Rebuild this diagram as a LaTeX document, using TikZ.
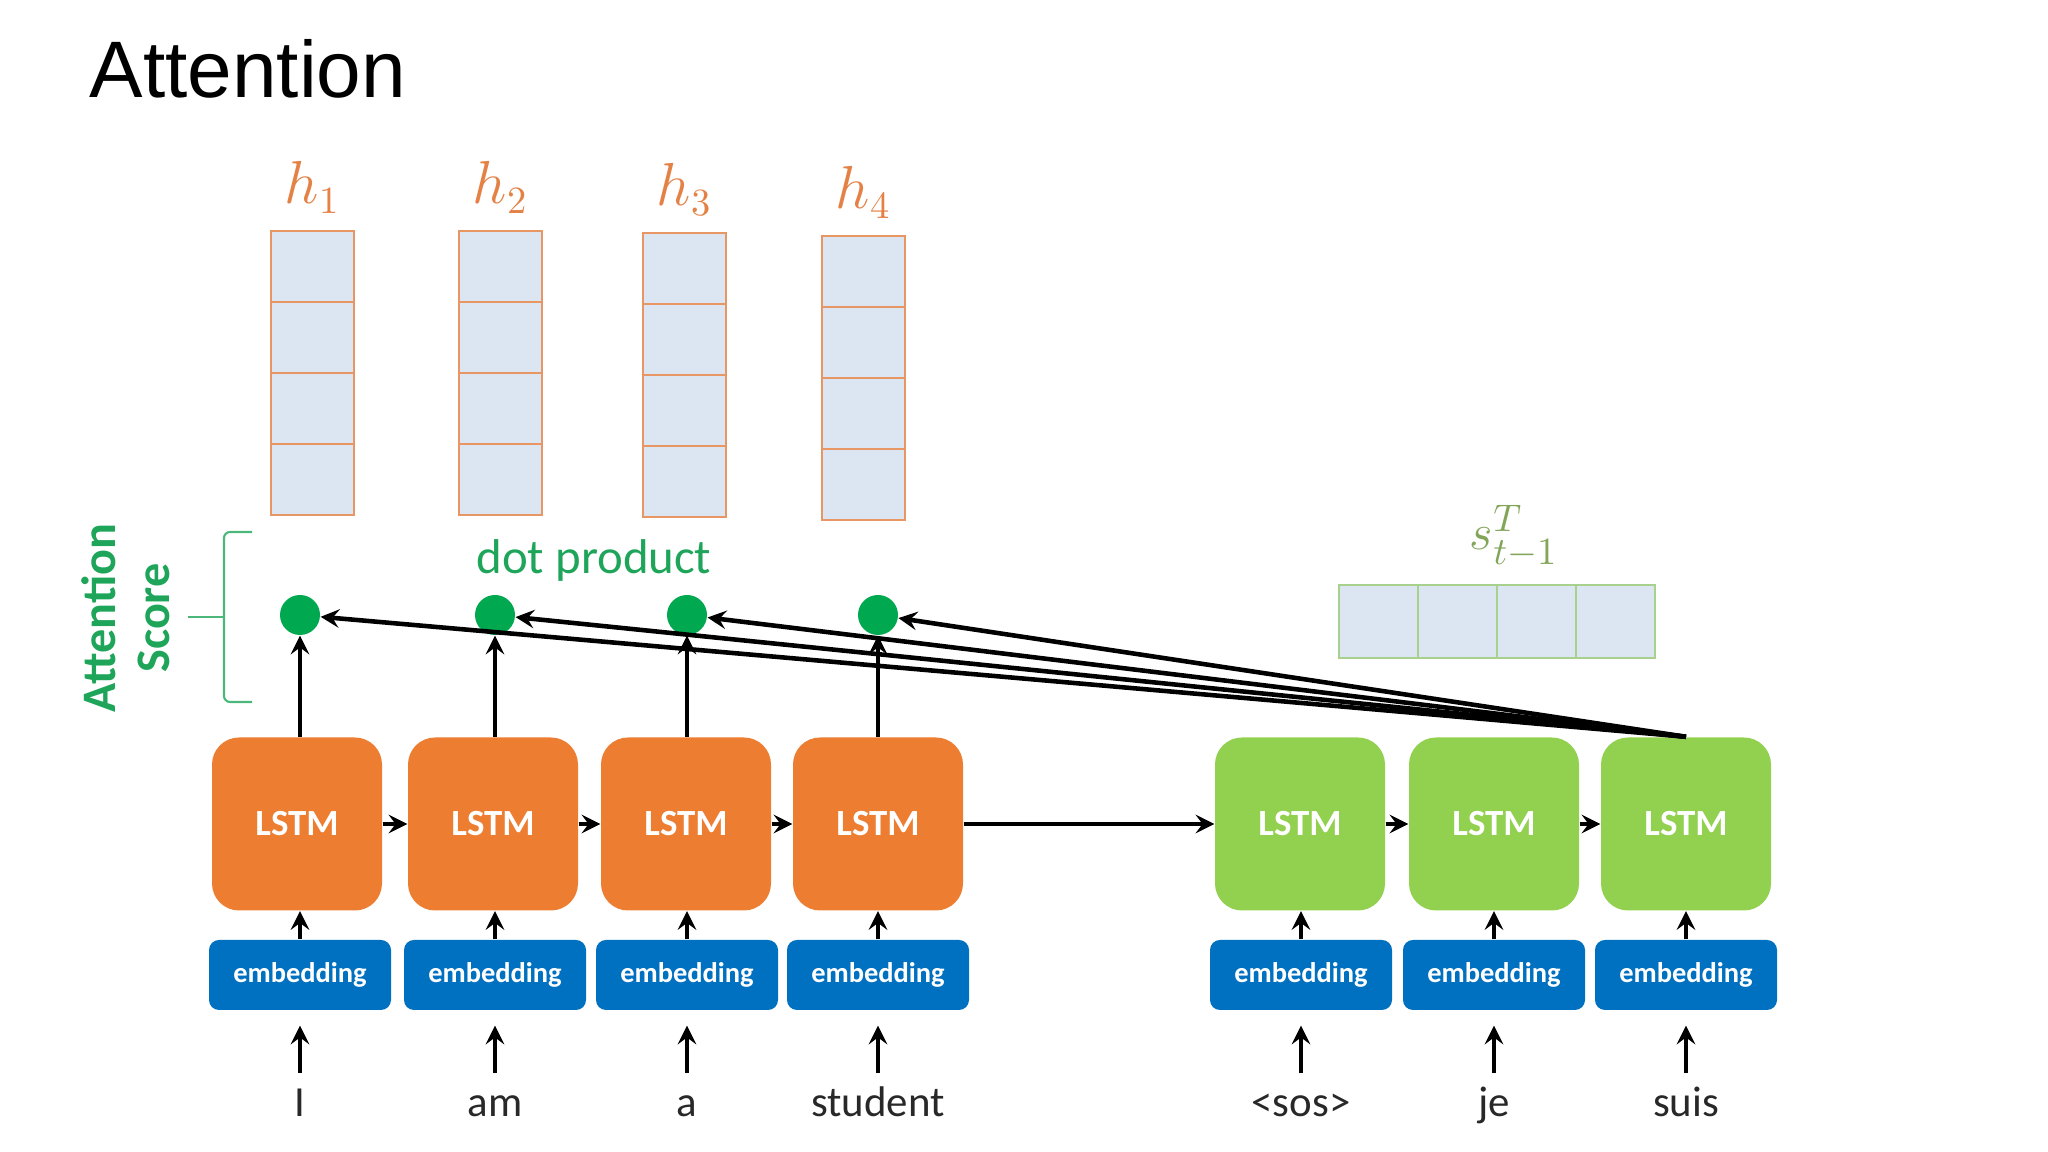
\documentclass[tikz,border=0pt]{standalone}
\usepackage{amsmath}
\usepackage{fontspec}
\setmainfont{Carlito}
\newfontfamily\titlefont{Liberation Sans}
\usepackage{tikz}

\definecolor{lstmorange}{RGB}{237,125,49}
\definecolor{lstmgreen}{RGB}{146,208,80}
\definecolor{embblue}{RGB}{0,112,192}
\definecolor{cellblue}{RGB}{220,230,242}
\definecolor{hborder}{RGB}{232,150,100}
\definecolor{sborder}{RGB}{169,209,142}
\definecolor{hlabel}{RGB}{228,130,70}
\definecolor{slabel}{RGB}{130,165,90}
\definecolor{scoregreen}{RGB}{0,168,80}
\definecolor{textgreen}{RGB}{30,165,90}
\definecolor{wordgray}{RGB}{40,40,40}

\tikzset{
	encbox/.style={rectangle, rounded corners=0.27cm, fill=lstmorange, minimum width=1.70cm, minimum height=1.73cm, text=white, font=\fontsize{10.5}{12}\selectfont\bfseries},
	decbox/.style={encbox, fill=lstmgreen},
	embbox/.style={rectangle, rounded corners=0.1cm, fill=embblue, minimum width=1.82cm, minimum height=0.70cm, text=white, font=\fontsize{8.1}{9}\selectfont\bfseries},
	word/.style={inner sep=0pt, anchor=base, text height=0.32cm, text depth=0.1cm, text=wordgray, font=\fontsize{12.2}{14}\selectfont},
	scoredot/.style={circle, fill=scoregreen, minimum size=0.40cm, inner sep=0pt},
	conn/.style={-stealth, line width=1.3pt},
	inarrow/.style={conn, shorten <=0.11cm, shorten >=0.15cm},
	hcell/.style={draw=hborder, fill=cellblue, line width=0.7pt},
	scell/.style={draw=sborder, fill=cellblue, line width=0.7pt},
	hlab/.style={anchor=base, inner sep=0pt, text=hlabel, font=\fontsize{16}{18}\selectfont},
	bracket/.style={draw=textgreen!80, line width=0.6pt},
}

\begin{document}
\begin{tikzpicture}
				\centering
				\useasboundingbox (0, 0) rectangle (20.48, 11.52);
				\node[anchor=base west, inner sep=0pt, font=\titlefont\fontsize{22.8}{26}\selectfont] (title) at (0.89, 10.54) {Attention};
				\draw[hcell] (2.71, 6.37) rectangle ++(0.83, 0.71);
				\draw[hcell] (2.71, 7.08) rectangle ++(0.83, 0.71);
				\draw[hcell] (2.71, 7.79) rectangle ++(0.83, 0.71);
				\draw[hcell] (2.71, 8.50) rectangle ++(0.83, 0.71);
				\draw[hcell] (4.59, 6.37) rectangle ++(0.83, 0.71);
				\draw[hcell] (4.59, 7.08) rectangle ++(0.83, 0.71);
				\draw[hcell] (4.59, 7.79) rectangle ++(0.83, 0.71);
				\draw[hcell] (4.59, 8.50) rectangle ++(0.83, 0.71);
				\draw[hcell] (6.43, 6.35) rectangle ++(0.83, 0.71);
				\draw[hcell] (6.43, 7.06) rectangle ++(0.83, 0.71);
				\draw[hcell] (6.43, 7.77) rectangle ++(0.83, 0.71);
				\draw[hcell] (6.43, 8.48) rectangle ++(0.83, 0.71);
				\draw[hcell] (8.22, 6.32) rectangle ++(0.83, 0.71);
				\draw[hcell] (8.22, 7.03) rectangle ++(0.83, 0.71);
				\draw[hcell] (8.22, 7.74) rectangle ++(0.83, 0.71);
				\draw[hcell] (8.22, 8.45) rectangle ++(0.83, 0.71);
				\node[hlab] (h1) at (3.125, 9.48) {$h_1$};
				\node[hlab] (h2) at (5.005, 9.48) {$h_2$};
				\node[hlab] (h3) at (6.845, 9.46) {$h_3$};
				\node[hlab] (h4) at (8.635, 9.43) {$h_4$};
				\draw[scell] (13.39, 4.94) rectangle ++(0.79, 0.73);
				\draw[scell] (14.18, 4.94) rectangle ++(0.79, 0.73);
				\draw[scell] (14.97, 4.94) rectangle ++(0.79, 0.73);
				\draw[scell] (15.76, 4.94) rectangle ++(0.79, 0.73);
				\node[anchor=base, inner sep=0pt, text=slabel, font=\fontsize{15.5}{17}\selectfont] (slab) at (15.14, 6.02) {$s_{t-1}^{T}$};
				\node[anchor=base, inner sep=0pt, text=textgreen, font=\fontsize{13.9}{16}\selectfont] (dotlab) at (5.94, 5.78) {dot product};
				\node[rotate=90, align=center, text=textgreen, font=\fontsize{13.7}{15.4}\selectfont\bfseries] (scorelab) at (1.26, 5.34) {Attention\\Score};
				\draw[bracket, rounded corners=0.06cm] (2.52, 6.20) -| (2.24, 4.50) -- (2.52, 4.50);
				\draw[bracket] (1.88, 5.35) -- (2.24, 5.35);
				\node[scoredot] (d1) at (3.00, 5.37) {};
				\node[scoredot] (d2) at (4.95, 5.37) {};
				\node[scoredot] (d3) at (6.87, 5.37) {};
				\node[scoredot] (d4) at (8.78, 5.37) {};
				\node[encbox] (enc1) at (2.97, 3.28) {LSTM};
				\node[encbox] (enc2) at (4.93, 3.28) {LSTM};
				\node[encbox] (enc3) at (6.86, 3.28) {LSTM};
				\node[encbox] (enc4) at (8.78, 3.28) {LSTM};
				\node[decbox] (dec1) at (13.00, 3.28) {LSTM};
				\node[decbox] (dec2) at (14.94, 3.28) {LSTM};
				\node[decbox] (dec3) at (16.86, 3.28) {LSTM};
				\node[embbox] (e1) at (3.00, 1.77) {embedding};
				\node[embbox] (e2) at (4.95, 1.77) {embedding};
				\node[embbox] (e3) at (6.87, 1.77) {embedding};
				\node[embbox] (e4) at (8.78, 1.77) {embedding};
				\node[embbox] (e5) at (13.01, 1.77) {embedding};
				\node[embbox] (e6) at (14.94, 1.77) {embedding};
				\node[embbox] (e7) at (16.86, 1.77) {embedding};
				\node[word] (w1) at (3.00, 0.35) {I};
				\node[word] (w2) at (4.95, 0.35) {am};
				\node[word] (w3) at (6.87, 0.35) {a};
				\node[word] (w4) at (8.78, 0.35) {student};
				\node[word] (w5) at (13.01, 0.35) {<sos>};
				\node[word] (w6) at (14.94, 0.35) {je};
				\node[word] (w7) at (16.86, 0.35) {suis};
				\draw[inarrow] (w1) -- (e1);
				\draw[inarrow] (w2) -- (e2);
				\draw[inarrow] (w3) -- (e3);
				\draw[inarrow] (w4) -- (e4);
				\draw[inarrow] (w5) -- (e5);
				\draw[inarrow] (w6) -- (e6);
				\draw[inarrow] (w7) -- (e7);
				\draw[conn] (e1) -- (e1 |- enc1.south);
				\draw[conn] (e2) -- (e2 |- enc2.south);
				\draw[conn] (e3) -- (e3 |- enc3.south);
				\draw[conn] (e4) -- (enc4);
				\draw[conn] (e5) -- (e5 |- dec1.south);
				\draw[conn] (e6) -- (dec2);
				\draw[conn] (e7) -- (dec3);
				\draw[conn] (enc1) -- (enc2);
				\draw[conn] (enc2) -- (enc3);
				\draw[conn] (enc3) -- (enc4);
				\draw[conn] (enc4) -- (dec1);
				\draw[conn] (dec1) -- (dec2);
				\draw[conn] (dec2) -- (dec3);
				\draw[conn] (d1 |- enc1.north) -- (d1);
				\draw[conn] (d2 |- enc2.north) -- (d2);
				\draw[conn] (d3 |- enc3.north) -- (d3);
				\draw[conn] (enc4) -- (d4);
				\draw[conn] (dec3.north) -- (d1);
				\draw[conn] (dec3.north) -- (d2);
				\draw[conn] (dec3.north) -- (d3);
				\draw[conn] (dec3.north) -- (d4);
			\end{tikzpicture}
\end{document}
